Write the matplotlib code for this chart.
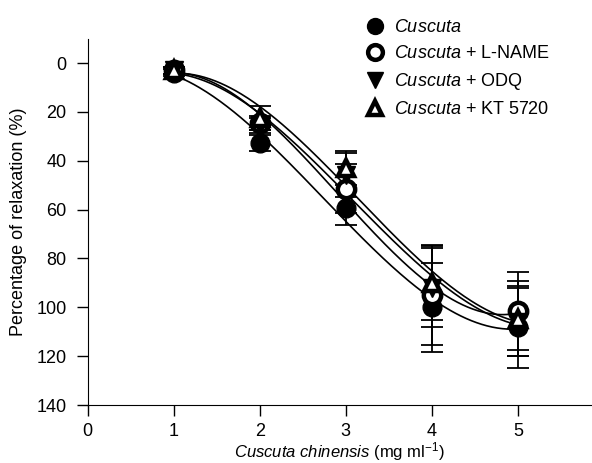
import numpy as np
import matplotlib
matplotlib.use("Agg")
import matplotlib.pyplot as plt

plt.rcParams['font.family'] = ['Liberation Sans', 'DejaVu Sans']
plt.rcParams['mathtext.fontset'] = 'custom'
plt.rcParams['mathtext.rm'] = 'Liberation Sans'
plt.rcParams['mathtext.it'] = 'Liberation Sans:italic'
plt.rcParams['mathtext.bf'] = 'Liberation Sans:bold'

dose = [1, 2, 3, 4, 5]
series_names = ["Cuscuta", "L-NAME", "ODQ", "KT 5720"]
cuscuta = [4, 32.7, 59.5, 100, 108]
cuscuta_err = [1.5, 3.4, 7.0, 18.2, 16.8]
lname = [3, 24.6, 51.5, 95, 101.4]
lname_err = [1.5, 3.0, 10.0, 20.6, 16.0]
odq = [3, 25.5, 46, 92, 106]
odq_err = [1.5, 3.0, 9.0, 16.2, 14.0]
kt = [3, 22.6, 43, 90, 104.7]
kt_err = [1.5, 5.0, 7.0, 15.0, 15.4]

FS = 13
fig = plt.figure(figsize=(5.92, 4.63), dpi=100)
ax = fig.add_axes([87.5/592, 1-405/463, 1-87.5/592, (405-38.6)/463])

styles = [
    dict(marker='o', mfc='black', mec='black', ms=13.5, mew=1),
    dict(marker='o', mfc='white', mec='black', ms=12.5, mew=3.2),
    dict(marker='v', mfc='black', mec='black', ms=13, mew=1),
    dict(marker='^', mfc='white', mec='black', ms=12, mew=3.2),
]
labels = [r"$\it{Cuscuta}$", r"$\it{Cuscuta}$ + L-NAME", r"$\it{Cuscuta}$ + ODQ", r"$\it{Cuscuta}$ + KT 5720"]
data = [(cuscuta, cuscuta_err), (lname, lname_err), (odq, odq_err), (kt, kt_err)]

xs = np.linspace(1, 5, 200)
for (y, e) in data:
    c = np.polyfit(dose, y, 3)
    ax.plot(xs, np.polyval(c, xs), color='black', lw=1.2, zorder=2)

handles = []
for (y, e), st, lab in zip(data, styles, labels):
    ax.errorbar(dose, y, yerr=e, fmt='none', ecolor='black', elinewidth=1.3,
                capsize=8, capthick=1.3, zorder=3)
    h, = ax.plot(dose, y, ls='none', zorder=4, label=lab, **st)
    handles.append(h)

ax.set_xlim(0, 5.86)
ax.set_ylim(140, -10)
ax.set_xticks([0, 1, 2, 3, 4, 5])
ax.set_yticks([0, 20, 40, 60, 80, 100, 120, 140])
ax.spines['top'].set_visible(False)
ax.spines['right'].set_visible(False)
ax.tick_params(direction='out', length=8, width=1, labelsize=FS)
ax.tick_params(axis='x', pad=5)
ax.tick_params(axis='y', pad=7)
ax.set_xlabel(r"$\it{Cuscuta\ chinensis}$ (mg ml$^{-1}$)", fontsize=12, labelpad=0)
ax.set_ylabel("Percentage of relaxation (%)", fontsize=FS, labelpad=7)

leg = ax.legend(handles=handles, loc='upper left', bbox_to_anchor=(0.517, 1.098),
                frameon=False, fontsize=FS, handletextpad=0.45, labelspacing=0.5,
                handlelength=1.2, markerscale=0.85)

fig.savefig("out.png", dpi=100)
